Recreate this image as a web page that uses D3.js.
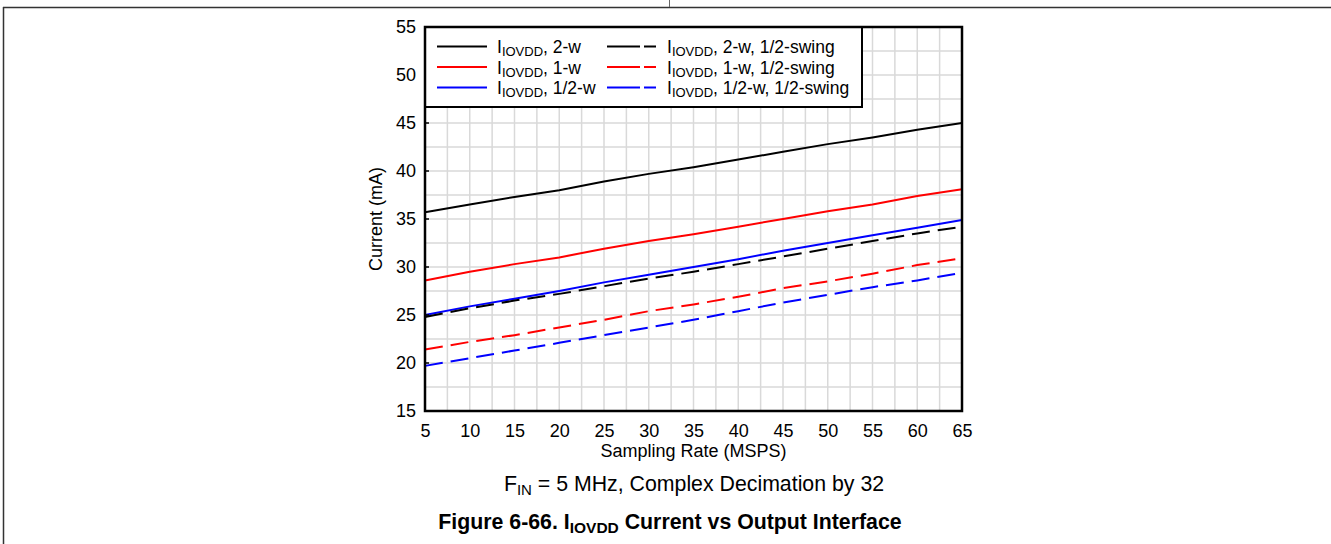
<!DOCTYPE html>
<html><head><meta charset="utf-8">
<script src="https://cdn.jsdelivr.net/npm/d3@7"></script>
<style>body{margin:0;background:#fff;}svg{display:block;font-family:"Liberation Sans",Arial,sans-serif;}</style>
</head><body>
<svg id="c" width="1331" height="544"></svg>
<script>
const rates = [5,10,15,20,25,30,35,40,45,50,55,60,65];
const s2w      = [35.7,36.5,37.3,38.0,38.9,39.7,40.4,41.2,42.0,42.8,43.5,44.3,45.0];
const s1w      = [28.6,29.5,30.3,31.0,31.9,32.7,33.4,34.2,35.0,35.8,36.5,37.4,38.1];
const sHalfW   = [25.0,25.9,26.7,27.5,28.4,29.2,30.0,30.8,31.7,32.5,33.3,34.1,34.9];
const s2wHS    = [24.8,25.7,26.5,27.2,28.0,28.8,29.5,30.3,31.1,31.9,32.7,33.5,34.2];
const s1wHS    = [21.4,22.2,22.9,23.7,24.5,25.4,26.1,26.9,27.8,28.5,29.3,30.2,30.9];
const sHalfWHS = [19.7,20.5,21.3,22.1,22.9,23.7,24.5,25.4,26.3,27.1,27.9,28.6,29.4];
const xTicks = [5,10,15,20,25,30,35,40,45,50,55,60,65];
const yTicks = [15,20,25,30,35,40,45,50,55];
const seriesNames = ["2-w","1-w","1/2-w","2-w, 1/2-swing","1-w, 1/2-swing","1/2-w, 1/2-swing"];
const seriesColors = ["#000000","#ff0000","#0000ff","#000000","#ff0000","#0000ff"];
const seriesDashed = [false,false,false,true,true,true];
const seriesVals = [s2w,s1w,sHalfW,s2wHS,s1wHS,sHalfWHS];

const FONT = "Liberation Sans, Arial, sans-serif";
const svg = d3.select("#c");
// page frame lines
svg.append("line").attr("x1",3).attr("x2",1331).attr("y1",7.5).attr("y2",7.5).attr("stroke","#333").attr("stroke-width",1.5);
svg.append("line").attr("x1",3.5).attr("x2",3.5).attr("y1",7).attr("y2",544).attr("stroke","#333").attr("stroke-width",1.5);
svg.append("line").attr("x1",669.5).attr("x2",669.5).attr("y1",0).attr("y2",7).attr("stroke","#666").attr("stroke-width",1);

const L=425, R=962, T=27, B=411;
const x = d3.scaleLinear().domain([5,65]).range([L,R]);
const y = d3.scaleLinear().domain([15,55]).range([B,T]);

// grid
const g = svg.append("g");
const gx = d3.range(5,65.01,2.5), gy = d3.range(15,55.01,2.5);
g.selectAll("line.gx").data(gx).enter().append("line")
  .attr("x1",d=>x(d)).attr("x2",d=>x(d)).attr("y1",T).attr("y2",B)
  .attr("stroke","#d9d9d9").attr("stroke-width",1.5);
g.selectAll("line.gy").data(gy).enter().append("line")
  .attr("y1",d=>y(d)).attr("y2",d=>y(d)).attr("x1",L).attr("x2",R)
  .attr("stroke","#d9d9d9").attr("stroke-width",1.5);

// lines
const line = d3.line().x((d,i)=>x(rates[i])).y(d=>y(d));
seriesVals.forEach((v,k)=>{
  svg.append("path").attr("d",line(v)).attr("fill","none")
    .attr("stroke",seriesColors[k]).attr("stroke-width",2)
    .attr("stroke-dasharray",seriesDashed[k]?"18,8":null);
});

// axes
const ax = svg.append("g").attr("transform",`translate(0,${B})`)
  .call(d3.axisBottom(x).tickValues(xTicks).tickSize(0).tickPadding(13));
ax.select(".domain").remove();
ax.selectAll("text").attr("font-size",18).attr("fill","#000").attr("font-family",FONT);
const ay = svg.append("g").attr("transform",`translate(${L},0)`)
  .call(d3.axisLeft(y).tickValues(yTicks).tickSize(0).tickPadding(9));
ay.select(".domain").remove();
ay.selectAll("text").attr("font-size",18).attr("fill","#000").attr("font-family",FONT);
// small inner tick marks on y axis
svg.selectAll("line.yt").data(yTicks).enter().append("line")
  .attr("x1",L).attr("x2",L+4).attr("y1",d=>y(d)).attr("y2",d=>y(d)).attr("stroke","#000").attr("stroke-width",1.5);

// legend
const lg = svg.append("g");
lg.append("rect").attr("x",L).attr("y",T).attr("width",862-L).attr("height",107-T)
  .attr("fill","#fff").attr("stroke","#000").attr("stroke-width",2);
seriesNames.forEach((n,k)=>{
  const col = k<3?0:1, row = k%3;
  const lx = col===0?437:607, ty = 47+row*20.5;
  lg.append("line").attr("x1",lx).attr("x2",lx+50).attr("y1",ty-0.5).attr("y2",ty-0.5)
    .attr("stroke",seriesColors[k]).attr("stroke-width",2)
    .attr("stroke-dasharray",seriesDashed[k]?"33,4,12,100":null);
  const t = lg.append("text").attr("x",lx+60).attr("y",ty+6).attr("font-size",17.5).attr("fill","#000");
  t.append("tspan").text("I");
  t.append("tspan").attr("font-size",13).attr("dy",3).text("IOVDD");
  t.append("tspan").attr("dy",-3).text(", "+n);
});

// frame
svg.append("rect").attr("x",L).attr("y",T).attr("width",R-L).attr("height",B-T)
  .attr("fill","none").attr("stroke","#000").attr("stroke-width",2.5);

// axis titles
svg.append("text").attr("x",(L+R)/2).attr("y",457).attr("text-anchor","middle").attr("font-size",18).text("Sampling Rate (MSPS)");
svg.append("text").attr("transform",`translate(382,${(T+B)/2}) rotate(-90)`).attr("text-anchor","middle").attr("font-size",18).text("Current (mA)");

// caption
const cap = svg.append("text").attr("x",694).attr("y",491).attr("text-anchor","middle").attr("font-size",21.3);
cap.append("tspan").text("F");
cap.append("tspan").attr("font-size",15).attr("dy",4).text("IN");
cap.append("tspan").attr("dy",-4).text(" = 5 MHz, Complex Decimation by 32");
const tt = svg.append("text").attr("x",670).attr("y",529).attr("text-anchor","middle").attr("font-size",21.3).attr("font-weight","bold");
tt.append("tspan").text("Figure 6-66. I");
tt.append("tspan").attr("font-size",15.5).attr("dy",4).text("IOVDD");
tt.append("tspan").attr("dy",-4).text(" Current vs Output Interface");
</script>
</body></html>
